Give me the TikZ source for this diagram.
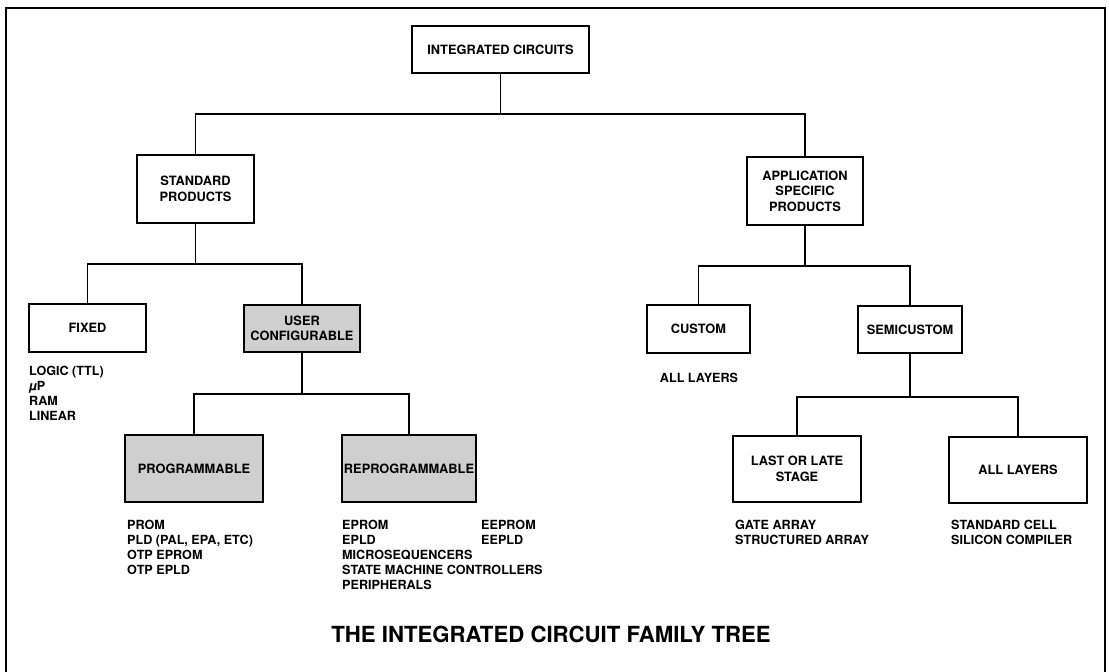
\documentclass[tikz,border=0pt]{standalone}
\usepackage{fontspec}
\setmainfont{TeX Gyre Heros}
\usetikzlibrary{positioning}
\definecolor{Halftone}{HTML}{CFCFCF}

\begin{document}
\begin{tikzpicture}[x=1pt,y=-1pt,
    familybox/.style={draw,line width=2.4pt,fill=white,align=center,inner sep=0pt,
      font=\bfseries\fontsize{12.8}{15.5}\selectfont},
    shadedbox/.style={familybox,fill=Halftone},
    itemlist/.style={anchor=north west,align=left,inner sep=0pt,
      font=\bfseries\fontsize{12.6}{15}\selectfont},
    link/.style={line width=1.2pt},
    frame/.style={line width=2.3pt}
  ]
    \useasboundingbox (0,0) rectangle (1109,672);
    \draw[frame] (6,672) -- (6,8) -- (1105,8) -- (1105,672);

    % top levels
    \node[familybox,minimum width=177,minimum height=47] (ic) at (500.5,49.5) {INTEGRATED CIRCUITS};
    \node[familybox,minimum width=117,minimum height=68] (std) at (195.5,189) {STANDARD\\PRODUCTS};
    \node[familybox,minimum width=116,minimum height=68] (asp) at (805,191) {APPLICATION\\SPECIFIC\\PRODUCTS};

    % second level
    \node[familybox,minimum width=117,minimum height=48] (fixed) at (87.5,328) {FIXED};
    \node[shadedbox,minimum width=116,minimum height=47] (usercfg) at (302,328.5) {USER\\CONFIGURABLE};
    \node[familybox,minimum width=103,minimum height=48] (custom) at (698.5,329) {CUSTOM};
    \node[familybox,minimum width=104,minimum height=47] (semi) at (910,329.5) {SEMICUSTOM};

    % third level
    \node[shadedbox,minimum width=138,minimum height=67] (prog) at (194,468.5) {PROGRAMMABLE};
    \node[shadedbox,minimum width=134,minimum height=67] (reprog) at (409,468.5) {REPROGRAMMABLE};
    \node[familybox,minimum width=128,minimum height=66] (late) at (797,469) {LAST OR LATE\\STAGE};
    \node[familybox,minimum width=138,minimum height=66] (layers) at (1018,470) {ALL LAYERS};

    % device lists
    \node[itemlist] (fixedlist) at (29,366) {LOGIC (TTL)\\{\itshape µ}P\\RAM\\LINEAR};
    \node[itemlist] (proglist) at (127,520) {PROM\\PLD (PAL, EPA, ETC)\\OTP EPROM\\OTP EPLD};
    \node[itemlist] (reproglist) at (342,520) {EPROM\\EPLD\\MICROSEQUENCERS\\STATE MACHINE CONTROLLERS\\PERIPHERALS};
    \node[itemlist] (eelist) at (481,520) {EEPROM\\EEPLD};
    \node[itemlist,anchor=north] (customlist) at (699,373) {ALL LAYERS};
    \node[itemlist] (latelist) at (735,520) {GATE ARRAY\\STRUCTURED ARRAY};
    \node[itemlist] (layerslist) at (951,520) {STANDARD CELL\\SILICON COMPILER};

    \node[font=\bfseries\fontsize{22.2}{26}\selectfont] (treetitle) at (551,634) {THE INTEGRATED CIRCUIT FAMILY TREE};

    % connectors
    \coordinate (icfork) at (ic.south |- 0,114);
    \coordinate (stdfork) at (std.south |- 0,264);
    \coordinate (aspfork) at (asp.south |- 0,266);
    \coordinate (userfork) at (usercfg.south |- 0,394);
    \coordinate (semifork) at (semi.south |- 0,397);
    \draw[link] (ic.south) -- (icfork);
    \draw[link] (std.north) |- (icfork) -| (asp.north);
    \draw[link] (std.south) -- (stdfork);
    \draw[link] (fixed.north) |- (stdfork) -| (usercfg.north);
    \draw[link] (asp.south) -- (aspfork);
    \draw[link] (custom.north) |- (aspfork) -| (semi.north);
    \draw[link] (usercfg.south) -- (userfork);
    \draw[link] (prog.north) |- (userfork) -| (reprog.north);
    \draw[link] (semi.south) -- (semifork);
    \draw[link] (late.north) |- (semifork) -| (layers.north);
  \end{tikzpicture}
\end{document}
